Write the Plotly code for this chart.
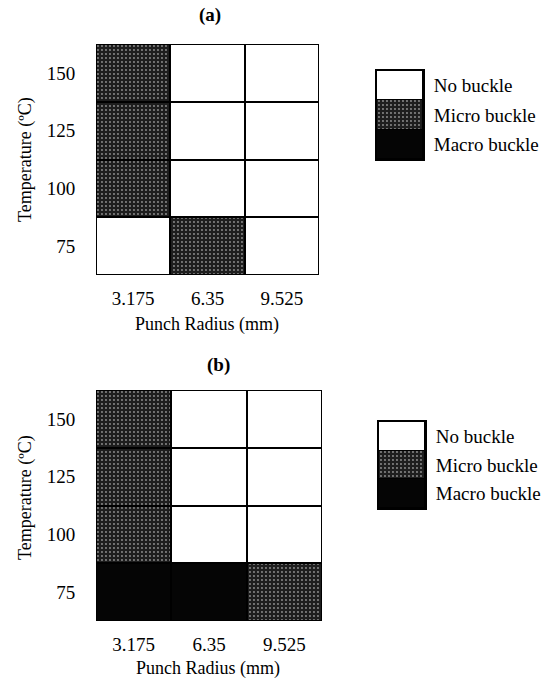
import plotly.graph_objects as go

# ---- data ----
radius = ["3.175", "6.35", "9.525"]          # Punch radius (mm)
temps = [75, 100, 125, 150]                   # Temperature (oC), bottom -> top
states = ["No buckle", "Micro buckle", "Macro buckle"]
# state code per cell: rows follow temps (75 -> 150), columns follow radius
grid_a = [[0, 1, 0],
          [1, 0, 0],
          [1, 0, 0],
          [1, 0, 0]]
grid_b = [[2, 2, 1],
          [1, 0, 0],
          [1, 0, 0],
          [1, 0, 0]]

# ---- styles ----
FONT = "Liberation Serif"
fill = {0: "#ffffff", 1: "#1e1e1e", 2: "#050505"}
patt = {0: "", 1: ".", 2: ""}
DOT = "#c8c8c8"


def cell_marker(codes, lw=2):
    m = dict(color=[fill[c] for c in codes], line=dict(color="black", width=lw))
    if any(patt[c] for c in codes):
        m["pattern"] = dict(shape=[patt[c] for c in codes], fgcolor=DOT,
                            size=4, solidity=0.18, fillmode="overlay")
    return m


fig = go.Figure()

for grid, xa, ya in [(grid_a, "x", "y"), (grid_b, "x2", "y2")]:
    for t, row in zip(temps, grid):
        fig.add_trace(go.Bar(x=radius, y=[1] * len(radius), name=str(t),
                             marker=cell_marker(row), xaxis=xa, yaxis=ya,
                             cliponaxis=False, showlegend=False, hoverinfo="skip"))

# custom legend boxes (bottom -> top: Macro, Micro, No)
for xa, ya in [("x3", "y3"), ("x4", "y4")]:
    for code in [2, 1, 0]:
        fig.add_trace(go.Bar(x=[0], y=[1], width=[1], name=states[code],
                             marker=cell_marker([code], lw=1.5),
                             xaxis=xa, yaxis=ya, cliponaxis=False,
                             showlegend=False, hoverinfo="skip"))

tickfont = dict(family=FONT, size=19, color="black")
hidden_tick = dict(ticks="outside", tickcolor="rgba(0,0,0,0)", showgrid=False,
                   zeroline=False, showline=False, automargin=False)
boxed = dict(ticks="outside", tickcolor="rgba(0,0,0,0)", showgrid=False,
             zeroline=False, showline=True, mirror=True, linecolor="black",
             linewidth=2, automargin=False)

W, H = 552, 681
def xd(a, b):
    return [a / W, b / W]
def yd(top, bottom):
    return [1 - bottom / H, 1 - top / H]

row_ticks = [i + 0.5 for i in range(len(temps))]
leg_ticks = [i + 0.5 for i in range(len(states))]
leg_text = [states[c] for c in [2, 1, 0]]

fig.update_layout(
    width=W, height=H, margin=dict(l=0, r=0, t=0, b=0),
    paper_bgcolor="white", plot_bgcolor="rgba(0,0,0,0)",
    barmode="stack", bargap=0,
    font=dict(family=FONT, color="black"),
    xaxis=dict(domain=xd(96, 319), anchor="y", range=[-0.5, 2.5],
               tickfont=tickfont, ticklen=6, **hidden_tick),
    yaxis=dict(domain=yd(44, 275), anchor="x", range=[0, 4], tickvals=row_ticks,
               ticktext=[str(t) for t in temps], tickfont=tickfont, ticklen=16,
               **hidden_tick),
    xaxis2=dict(domain=xd(96, 322), anchor="y2", range=[-0.5, 2.5],
                tickfont=tickfont, ticklen=6, **hidden_tick),
    yaxis2=dict(domain=yd(390, 621), anchor="x2", range=[0, 4], tickvals=row_ticks,
                ticktext=[str(t) for t in temps], tickfont=tickfont, ticklen=16,
                **hidden_tick),
    xaxis3=dict(domain=xd(377, 423), anchor="y3", range=[-0.5, 0.5], type="linear",
                showticklabels=False, **boxed),
    yaxis3=dict(domain=yd(71, 159), anchor="x3", range=[0, 3], side="right",
                tickvals=leg_ticks, ticktext=leg_text, tickfont=tickfont,
                ticklen=5, **boxed),
    xaxis4=dict(domain=xd(379, 425), anchor="y4", range=[-0.5, 0.5], type="linear",
                showticklabels=False, **boxed),
    yaxis4=dict(domain=yd(422, 508), anchor="x4", range=[0, 3], side="right",
                tickvals=leg_ticks, ticktext=leg_text, tickfont=tickfont,
                ticklen=5, **boxed),
)

def ann(text, x, y, size=18, angle=0):
    fig.add_annotation(text=text, x=x / W, y=1 - y / H, xref="paper", yref="paper",
                       showarrow=False, textangle=angle, xanchor="center", yanchor="middle",
                       font=dict(family=FONT, size=size, color="black"))

ann("<b>(a)</b>", 210, 15, 19)
ann("<b>(b)</b>", 218, 365, 19)
ann("Punch Radius (mm)", 207, 325, 18)
ann("Punch Radius (mm)", 208, 668, 18)
ann("Temperature (ºC)", 25, 160, 18, -90)
ann("Temperature (ºC)", 25, 498, 18, -90)

fig.write_html("out.html")
